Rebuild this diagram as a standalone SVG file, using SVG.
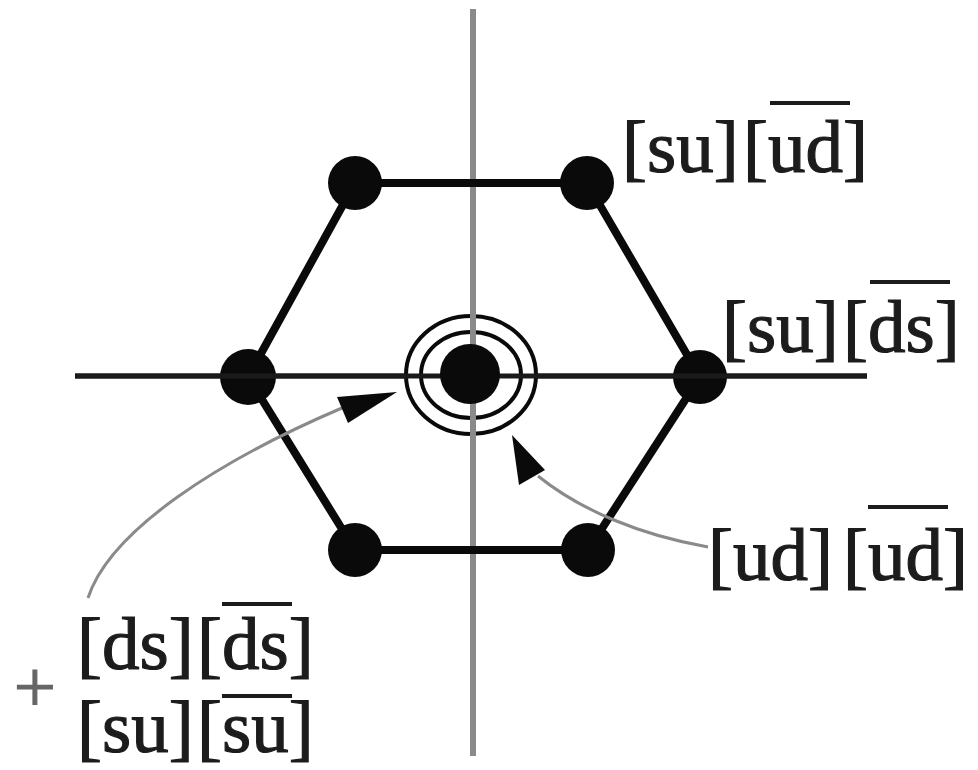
<svg xmlns="http://www.w3.org/2000/svg" width="978" height="770" viewBox="0 0 978 770">
<style>
.lbl{font-family:"Liberation Serif","Times New Roman",serif;font-size:75px;fill:#1c1c1c;stroke:#1c1c1c;stroke-width:1.2}
.ov{stroke:#1c1c1c;stroke-width:4}
.edge{stroke:#0a0a0a;stroke-width:8;fill:none;stroke-linejoin:round}
.dot{fill:#0a0a0a}
.conn{stroke:#8a8a8a;stroke-width:3;fill:none}
.head{fill:#0a0a0a}
</style>
<rect width="978" height="770" fill="#ffffff"/>
<g id="axes">
<line x1="473" y1="9" x2="473" y2="756" stroke="#8a8a8a" stroke-width="6"/>
<line x1="75" y1="376" x2="867" y2="376" stroke="#1a1a1a" stroke-width="5"/>
</g>
<g id="hexagon">
<polygon class="edge" points="355,183 587,183 700,377 588,550 355,550 248,377"/>
</g>
<g id="node-tl"><circle class="dot" cx="355" cy="183" r="27"/></g>
<g id="node-tr"><circle class="dot" cx="587" cy="183" r="27"/></g>
<g id="node-r"><circle class="dot" cx="700" cy="377" r="27"/></g>
<g id="node-br"><circle class="dot" cx="588" cy="550" r="27"/></g>
<g id="node-bl"><circle class="dot" cx="355" cy="550" r="27"/></g>
<g id="node-l"><circle class="dot" cx="248" cy="377" r="28"/></g>
<g id="node-center">
<ellipse cx="471" cy="375" rx="65" ry="59" fill="#ffffff" stroke="#0a0a0a" stroke-width="4"/>
<ellipse cx="471" cy="375" rx="50" ry="43" fill="none" stroke="#0a0a0a" stroke-width="4"/>
<line x1="75" y1="376" x2="867" y2="376" stroke="#1a1a1a" stroke-width="5"/>
<line x1="473" y1="300" x2="473" y2="450" stroke="#8a8a8a" stroke-width="6"/>
<circle class="dot" cx="470" cy="374" r="30"/>
</g>
<g id="connectors">
<path class="conn" d="M 88 598 C 110 530, 220 460, 342 408"/>
<polygon class="head" points="397,392 337,397 348,423"/>
<path class="conn" d="M 538 476 C 580 510, 640 535, 708 547"/>
<polygon class="head" points="512,435 519,485 545,470"/>
</g>
<g id="label-su-ud">
<text class="lbl" y="172"><tspan x="622">[su]</tspan><tspan x="743">[ud]</tspan></text>
<line class="ov" x1="770" y1="103" x2="850" y2="103"/>
</g>
<g id="label-su-ds">
<text class="lbl" y="352"><tspan x="722">[su]</tspan><tspan x="843">[ds]</tspan></text>
<line class="ov" x1="870" y1="282" x2="950" y2="282"/>
</g>
<g id="label-ud-ud">
<text class="lbl" y="580"><tspan x="708">[ud]</tspan><tspan x="843">[ud]</tspan></text>
<line class="ov" x1="868" y1="507" x2="948" y2="507"/>
</g>
<g id="label-mix">
<text class="lbl" x="35" y="712" text-anchor="middle" style="fill:#666;stroke:#666">+</text>
<text class="lbl" y="669"><tspan x="77">[ds]</tspan><tspan x="197">[ds]</tspan></text>
<line class="ov" x1="222" y1="604" x2="292" y2="604"/>
<text class="lbl" y="752"><tspan x="77">[su]</tspan><tspan x="197">[su]</tspan></text>
<line class="ov" x1="222" y1="696" x2="292" y2="696"/>
</g>
</svg>
